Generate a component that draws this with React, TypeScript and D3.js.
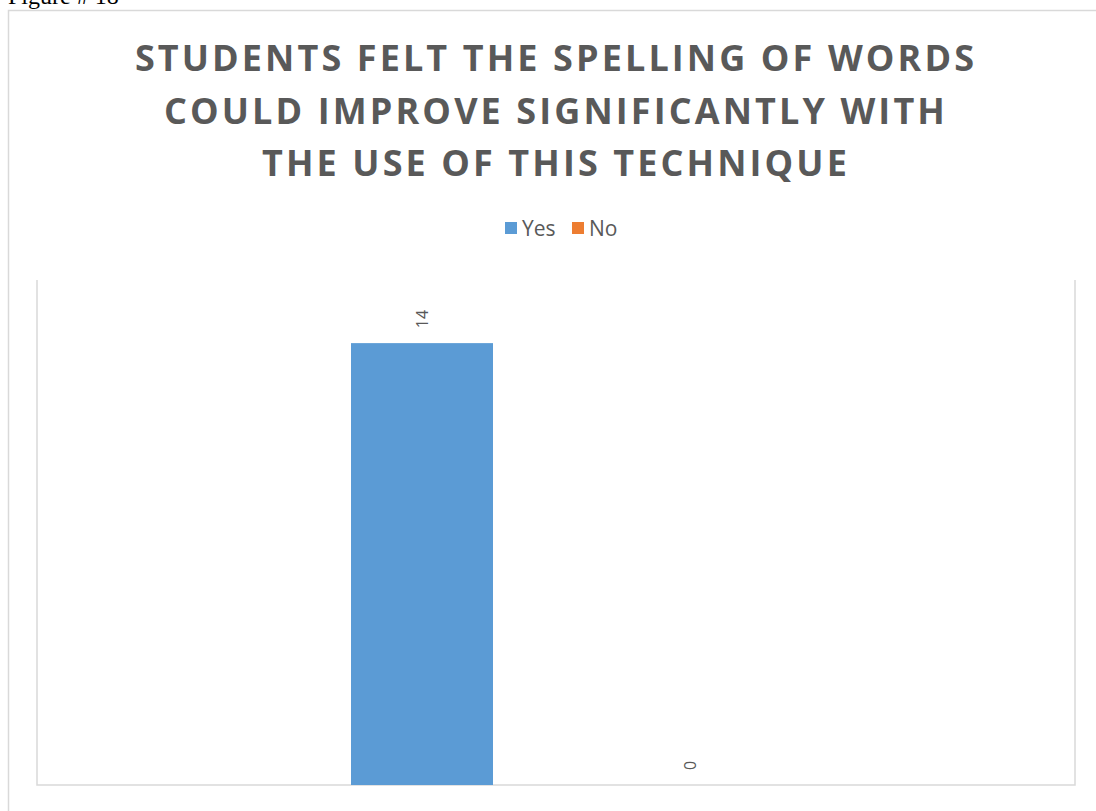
import React from "react";
import * as d3 from "d3";

const titleLines = [
  "STUDENTS FELT THE SPELLING OF WORDS",
  "COULD IMPROVE SIGNIFICANTLY WITH",
  "THE USE OF THIS TECHNIQUE",
];
const seriesNames = ["Yes", "No"];
const seriesValues = [14, 0];
const seriesColors = ["#5B9BD5", "#ED7D31"];
const yMax = 16;

export default function App() {
  const W = 1096, H = 811;
  const plot = { left: 37, right: 1075, top: 280, bottom: 785 };
  const y = d3.scaleLinear().domain([0, yMax]).range([plot.bottom, plot.top]);
  const cx = (plot.left + plot.right) / 2;
  const x = d3.scalePoint<string>().domain(seriesNames).range([cx - 134, cx + 134]);
  const barW = 142;
  const font = "'Open Sans', 'Liberation Sans', sans-serif";
  return (
    <svg width={W} height={H} style={{ position: "absolute", left: 0, top: 0, background: "#fff" }}>
      <text x={8} y={4} fontFamily="'Liberation Serif', 'Times New Roman', serif" fontSize={24} fill="#000">Figure # 18</text>
      <path d={`M8.5,${H + 5}V10.5H${W + 5}`} fill="none" stroke="#d9d9d9" strokeWidth={1.5} />
      {titleLines.map((t, i) => (
        <text key={i} x={cx} y={71 + i * 52.5} textAnchor="middle" fontFamily={font} fontWeight={700} fontSize={36} letterSpacing={3.1} fill="#595959">{t}</text>
      ))}
      <g fontFamily={font} fontSize={21} fill="#595959">
        <rect x={505} y={222} width={12} height={12} fill={seriesColors[0]} />
        <text x={522} y={236}>{seriesNames[0]}</text>
        <rect x={572} y={222} width={12} height={12} fill={seriesColors[1]} />
        <text x={589} y={236}>{seriesNames[1]}</text>
      </g>
      <path d={`M${plot.left},${plot.top}V${plot.bottom}H${plot.right}V${plot.top}`} fill="none" stroke="#d9d9d9" strokeWidth={1.5} />
      {seriesValues.map((v, i) => (
        <g key={i}>
          {v > 0 && (
            <rect x={x(seriesNames[i])! - barW / 2} y={y(v)} width={barW} height={y(0) - y(v)} fill={seriesColors[i]} />
          )}
          <text transform={`translate(${x(seriesNames[i])! + 6},${y(v) - 15}) rotate(-90)`} textAnchor="start" fontFamily={font} fontSize={16} fill="#595959">{v}</text>
        </g>
      ))}
    </svg>
  );
}
